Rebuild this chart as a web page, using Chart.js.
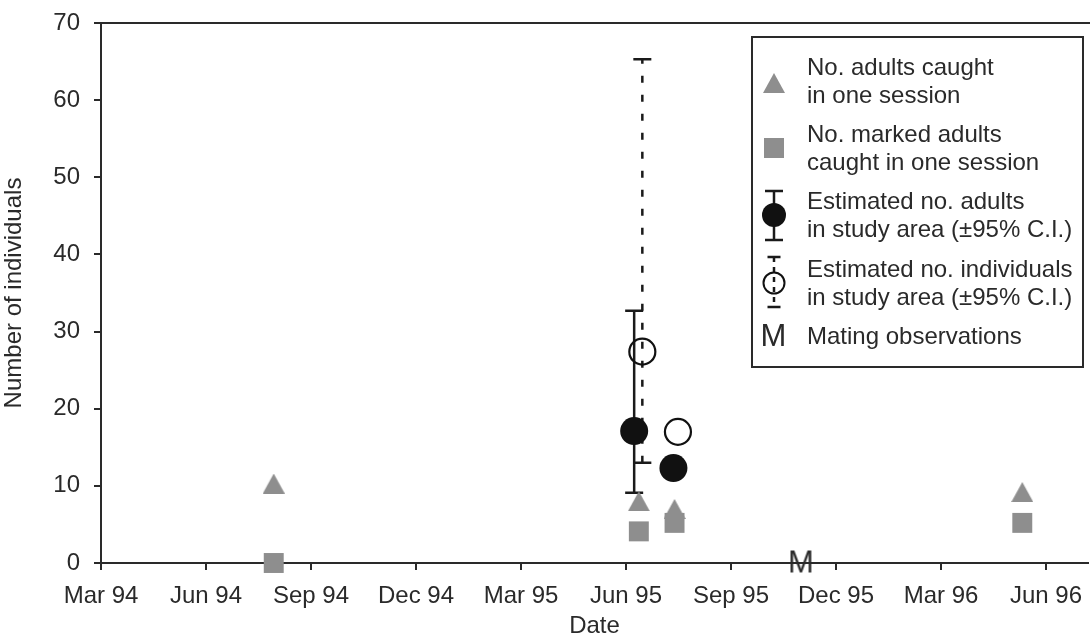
<!DOCTYPE html>
<html>
<head>
<meta charset="utf-8">
<script src="https://cdn.jsdelivr.net/npm/chart.js@4.4.0/dist/chart.umd.min.js"></script>
<style>
  body { margin: 0; background: #fff; }
  #wrap { width: 1090px; height: 643px; }
  canvas { display: block; }
</style>
</head>
<body>
<div id="wrap"><canvas id="popChart" width="1090" height="643"></canvas></div>
<script>
// x axis is in months counted from 1 Mar 1994
const tickLabels = ['Mar 94', 'Jun 94', 'Sep 94', 'Dec 94', 'Mar 95', 'Jun 95', 'Sep 95', 'Dec 95', 'Mar 96', 'Jun 96'];
const tickMonths = [0, 3, 6, 9, 12, 15, 18, 21, 24, 27];

const sessionDates = ['1994-07-30', '1995-06-12', '1995-07-13', '1996-05-11'];
const adultsCaught = [10.3, 8.0, 7.0, 9.2];
const markedCaught = [0, 4.1, 5.2, 5.2];

const adultEstDates = ['1995-06-08', '1995-07-12'];
const adultEst = [17.1, 12.3];
const adultEstLow = [9.1, null];
const adultEstHigh = [32.7, null];

const indivEstDates = ['1995-06-15', '1995-07-16'];
const indivEst = [27.4, 17.0];
const indivEstLow = [13.0, null];
const indivEstHigh = [65.3, null];

const matingDates = ['1995-11-01'];

const legendText = [
  ['No. adults caught', 'in one session'],
  ['No. marked adults', 'caught in one session'],
  ['Estimated no. adults', 'in study area (\u00b195% C.I.)'],
  ['Estimated no. individuals', 'in study area (\u00b195% C.I.)'],
  ['Mating observations']
];

const TEXT = '#2a2a2a';
const GREY = '#8e8e8e';
const FONT = '"Liberation Sans", Arial, sans-serif';

Chart.defaults.font.family = FONT;
Chart.defaults.color = TEXT;

function toMonths(s) {
  const [y, m, d] = s.split('-').map(Number);
  const days = new Date(y, m, 0).getDate();
  return (y - 1994) * 12 + (m - 3) + (d - 1) / days;
}

function pts(dates, vals) {
  return dates.map((d, i) => ({ x: toMonths(d), y: vals[i] }));
}

function makeTriangle(w, h) {
  const c = document.createElement('canvas');
  c.width = w; c.height = h;
  const g = c.getContext('2d');
  g.fillStyle = GREY;
  g.beginPath();
  g.moveTo(w / 2, 0); g.lineTo(w, h); g.lineTo(0, h);
  g.closePath(); g.fill();
  return c;
}

function makeLetter(ch, size) {
  const c = document.createElement('canvas');
  c.width = size; c.height = size;
  const g = c.getContext('2d');
  g.font = size + 'px ' + FONT;
  g.fillStyle = TEXT;
  g.textAlign = 'center';
  g.textBaseline = 'middle';
  g.fillText(ch, size / 2, size / 2 + 1);
  return c;
}

const triImg = makeTriangle(22, 20);
const mImg = makeLetter('M', 31);

function drawBar(ctx, x, y1, y2, cap, dash) {
  ctx.save();
  ctx.strokeStyle = '#1a1a1a';
  ctx.lineWidth = 2.5;
  ctx.setLineDash(dash || []);
  ctx.beginPath(); ctx.moveTo(x, y1); ctx.lineTo(x, y2); ctx.stroke();
  ctx.setLineDash([]);
  ctx.beginPath();
  ctx.moveTo(x - cap / 2, y1); ctx.lineTo(x + cap / 2, y1);
  ctx.moveTo(x - cap / 2, y2); ctx.lineTo(x + cap / 2, y2);
  ctx.stroke();
  ctx.restore();
}

// confidence intervals, drawn under the markers
const errorBars = {
  id: 'errorBars',
  beforeDatasetsDraw(chart) {
    const ctx = chart.ctx, yScale = chart.scales.y;
    chart.data.datasets.forEach((ds, i) => {
      if (!ds.errLow) return;
      chart.getDatasetMeta(i).data.forEach((pt, j) => {
        if (ds.errLow[j] == null) return;
        drawBar(ctx, pt.x, yScale.getPixelForValue(ds.errLow[j]), yScale.getPixelForValue(ds.errHigh[j]), 18, ds.errDash);
      });
    });
  }
};

// top frame line + boxed legend
const frameAndLegend = {
  id: 'frameAndLegend',
  afterDraw(chart) {
    const ctx = chart.ctx, area = chart.chartArea;
    ctx.save();
    ctx.strokeStyle = TEXT;
    ctx.lineWidth = 2;
    ctx.beginPath();
    ctx.moveTo(area.left, area.top); ctx.lineTo(chart.width, area.top);
    ctx.stroke();

    const left = area.right - 336, top = area.top + 14;
    ctx.strokeRect(left, top, 331, 330);

    const sx = left + 22, tx = left + 55;
    const symY = [46, 111, 178, 246, 300];
    const txtY = [31, 98, 165, 233, 300];

    ctx.fillStyle = GREY;
    ctx.drawImage(triImg, sx - 11, top + symY[0] - 10);
    ctx.fillRect(sx - 10, top + symY[1] - 10, 20, 20);

    drawBar(ctx, sx, top + symY[2] - 24, top + symY[2] + 25, 18);
    ctx.fillStyle = '#111';
    ctx.beginPath(); ctx.arc(sx, top + symY[2], 12, 0, Math.PI * 2); ctx.fill();

    drawBar(ctx, sx, top + symY[3] - 26, top + symY[3] + 24, 13, [5, 5]);
    ctx.strokeStyle = '#111'; ctx.lineWidth = 2;
    ctx.beginPath(); ctx.arc(sx, top + symY[3], 10.5, 0, Math.PI * 2); ctx.stroke();

    ctx.drawImage(mImg, sx - 16, top + symY[4] - 16);

    ctx.fillStyle = TEXT;
    ctx.font = '24px ' + FONT;
    ctx.textBaseline = 'middle';
    legendText.forEach((lines, i) => {
      lines.forEach((s, k) => ctx.fillText(s, tx, top + txtY[i] + k * 28));
    });
    ctx.restore();
  }
};

const setTicks = s => { s.ticks = tickMonths.map(v => ({ value: v })); };
const noSidePad = s => { s.paddingLeft = 0; s.paddingRight = 0; };

new Chart(document.getElementById('popChart'), {
  type: 'scatter',
  data: {
    datasets: [
      {
        label: 'No. adults caught in one session',
        data: pts(sessionDates, adultsCaught),
        pointStyle: triImg, pointRadius: 11,
        backgroundColor: GREY, borderWidth: 0, clip: false
      },
      {
        label: 'No. marked adults caught in one session',
        data: pts(sessionDates, markedCaught),
        pointStyle: 'rect', pointRadius: 14.1,
        backgroundColor: GREY, borderWidth: 0, clip: false
      },
      {
        label: 'Estimated no. adults in study area',
        data: pts(adultEstDates, adultEst),
        errLow: adultEstLow, errHigh: adultEstHigh,
        pointStyle: 'circle', pointRadius: 14,
        backgroundColor: '#111', borderWidth: 0, clip: false
      },
      {
        label: 'Estimated no. individuals in study area',
        data: pts(indivEstDates, indivEst),
        errLow: indivEstLow, errHigh: indivEstHigh, errDash: [7, 12],
        pointStyle: 'circle', pointRadius: 13,
        backgroundColor: 'rgba(0,0,0,0)', borderColor: '#111', borderWidth: 2.2, clip: false
      },
      {
        label: 'Mating observations',
        data: matingDates.map(d => ({ x: toMonths(d), y: 0 })),
        pointStyle: mImg, pointRadius: 15, clip: false
      }
    ]
  },
  options: {
    responsive: false,
    animation: false,
    events: [],
    layout: { autoPadding: false, padding: { top: 23, right: 2, left: 0, bottom: 0 } },
    plugins: { legend: { display: false }, tooltip: { enabled: false } },
    scales: {
      x: {
        type: 'linear', position: 'bottom', min: 0, max: 28.2, weight: 0,
        afterBuildTicks: setTicks,
        afterFit: noSidePad,
        ticks: { display: false },
        grid: { drawOnChartArea: false, tickLength: 7, color: TEXT, lineWidth: 2 },
        border: { color: TEXT, width: 2 }
      },
      xLabels: {
        type: 'linear', position: 'bottom', min: 0, max: 28.2, weight: 1,
        afterBuildTicks: setTicks,
        afterFit: s => { s.height = 73; noSidePad(s); },
        grid: { display: false },
        border: { display: false },
        ticks: {
          font: { size: 24 }, color: TEXT, padding: 4, maxRotation: 0, autoSkip: false,
          callback: (v, i) => tickLabels[i]
        },
        title: { display: true, text: 'Date', font: { size: 24 }, color: TEXT, padding: { top: 4, bottom: 2 } }
      },
      y: {
        min: 0, max: 70,
        afterFit: s => { s.width = 101; s.paddingTop = 0; s.paddingBottom = 0; },
        ticks: { stepSize: 10, font: { size: 24 }, color: TEXT, padding: 14 },
        grid: { drawOnChartArea: false, tickLength: 7, color: TEXT, lineWidth: 2 },
        border: { color: TEXT, width: 2 },
        title: { display: true, text: 'Number of individuals', font: { size: 24 }, color: TEXT, padding: { top: 0, bottom: 0 } }
      }
    }
  },
  plugins: [errorBars, frameAndLegend]
});
</script>
</body>
</html>
